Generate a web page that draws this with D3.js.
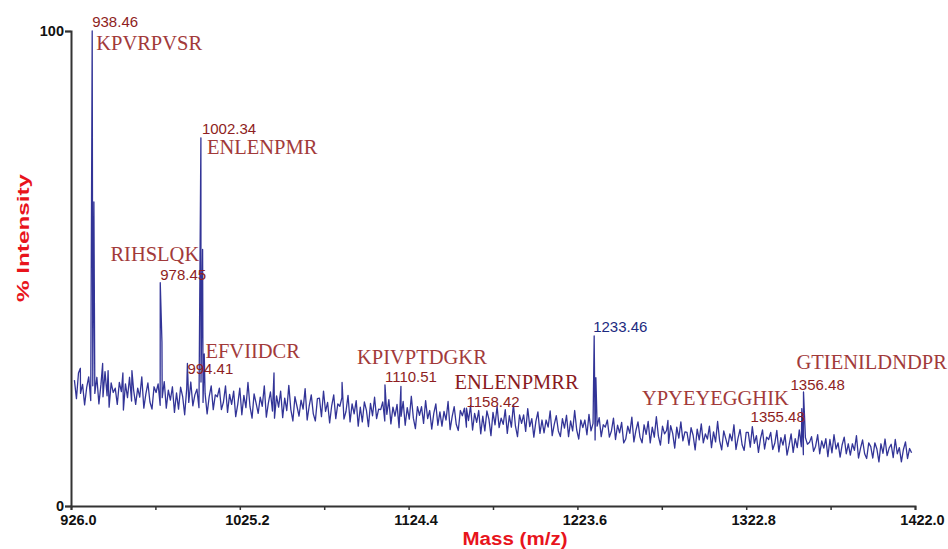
<!DOCTYPE html>
<html>
<head>
<meta charset="utf-8">
<script src="https://cdn.jsdelivr.net/npm/d3@7"></script>
<style>
  html, body { margin: 0; padding: 0; background: #fff; }
  svg { display: block; }
</style>
</head>
<body>
<svg id="chart" width="948" height="549"></svg>
<script>
// MALDI-TOF spectrum: % intensity vs mass (m/z)

// sampled baseline spectrum, starting at 928.0 m/z, one value every 1.2 m/z
const spectrumStart = 928.0;
const spectrumStep = 1.2;
const spectrumIntensity = [
  26.5, 22.6, 28.0, 23.7, 25.6, 21.3, 24.9, 27.2, 22.2, 25.3,
  23.7, 27.1, 21.5, 25.6, 23.0, 28.3, 23.2, 20.8, 25.9, 23.9,
  24.8, 21.4, 26.0, 24.1, 20.2, 25.7, 22.8, 27.1, 22.1, 24.4,
  21.4, 24.8, 22.9, 27.2, 20.6, 23.6, 25.9, 21.9, 20.4, 25.1,
  23.9, 25.7, 21.2, 22.8, 26.2, 20.6, 24.4, 22.3, 25.1, 19.7,
  23.8, 20.4, 25.0, 23.1, 19.2, 24.7, 21.8, 26.1, 21.1, 23.4,
  24.6, 20.7, 26.1, 21.8, 23.7, 19.4, 23.0, 25.3, 20.3, 23.4,
  23.0, 24.8, 20.3, 21.9, 25.3, 19.7, 23.5, 21.4, 24.2, 18.8,
  21.4, 24.8, 19.2, 23.3, 20.7, 26.0, 20.9, 18.5, 23.6, 21.6,
  19.5, 22.9, 21.0, 25.3, 18.7, 21.7, 24.0, 20.0, 18.5, 23.2,
  20.8, 24.2, 18.6, 22.7, 20.1, 25.4, 20.3, 17.9, 23.0, 21.0,
  18.9, 22.3, 20.4, 24.7, 18.1, 21.1, 23.4, 19.4, 17.9, 22.6,
  22.7, 18.8, 24.2, 19.9, 21.8, 17.5, 21.1, 23.4, 18.4, 21.5,
  21.0, 22.8, 18.3, 19.9, 23.3, 17.7, 21.5, 19.4, 22.2, 16.8,
  20.8, 17.7, 21.9, 20.2, 16.7, 21.6, 19.0, 22.9, 18.4, 20.4,
  20.3, 21.9, 17.9, 19.3, 22.4, 17.3, 20.8, 18.9, 21.4, 16.5,
  18.9, 22.0, 17.0, 20.7, 18.3, 23.1, 18.5, 16.3, 20.9, 19.1,
  20.9, 17.4, 22.2, 18.4, 20.1, 16.2, 19.5, 21.5, 17.0, 19.8,
  16.8, 19.9, 18.1, 22.0, 16.1, 18.8, 20.9, 17.2, 15.9, 20.1,
  19.0, 20.6, 16.6, 18.0, 21.1, 16.0, 19.5, 17.6, 20.1, 15.2,
  18.9, 15.8, 20.0, 18.3, 14.8, 19.7, 17.1, 21.0, 16.5, 18.5,
  17.2, 20.3, 15.3, 19.0, 16.6, 21.4, 16.8, 14.6, 19.2, 17.4,
  19.2, 15.7, 20.5, 16.7, 18.4, 14.5, 17.8, 19.8, 15.3, 18.1,
  15.4, 18.1, 16.6, 20.0, 14.8, 17.2, 19.0, 15.8, 14.6, 18.4,
  16.4, 19.1, 14.6, 17.9, 15.8, 20.1, 16.0, 14.1, 18.1, 16.5,
  18.1, 15.0, 19.3, 15.8, 17.4, 13.9, 16.8, 18.6, 14.6, 17.1,
  16.6, 18.1, 14.5, 15.8, 18.5, 14.0, 17.0, 15.4, 17.6, 13.3,
  14.1, 16.8, 15.3, 18.7, 13.5, 15.9, 17.7, 14.5, 13.3, 17.1,
  15.1, 17.8, 13.3, 16.6, 14.5, 18.8, 14.7, 12.8, 16.8, 15.2,
  15.9, 13.2, 16.9, 15.3, 12.2, 16.6, 14.3, 17.7, 13.7, 15.6,
  15.5, 12.8, 16.5, 14.9, 11.8, 16.2, 13.9, 17.3, 13.3, 15.2,
  14.1, 16.8, 12.3, 15.6, 13.5, 17.8, 13.7, 11.8, 15.8, 14.2,
  12.5, 15.2, 13.7, 17.1, 11.9, 14.3, 16.1, 12.9, 11.7, 15.5,
  15.5, 12.4, 16.7, 13.2, 14.8, 11.3, 14.2, 16.0, 12.0, 14.5,
  14.0, 15.5, 11.9, 13.2, 15.9, 11.4, 14.4, 12.8, 15.0, 10.7,
  12.8, 15.2, 11.3, 14.2, 12.3, 16.0, 12.5, 10.8, 14.4, 13.0,
  13.4, 14.6, 11.5, 12.6, 15.0, 11.0, 13.7, 12.2, 14.2, 10.4,
  14.0, 11.2, 15.0, 12.0, 13.3, 10.3, 12.9, 14.5, 11.0, 13.1,
  10.7, 13.1, 11.7, 14.8, 10.1, 12.2, 13.9, 11.0, 10.0, 13.3,
  12.5, 10.1, 13.3, 12.0, 9.3, 13.1, 11.1, 14.1, 10.6, 12.2,
  13.0, 10.2, 14.0, 11.0, 12.3, 9.3, 11.9, 13.5, 10.0, 12.1,
  11.2
];

// peak apexes (m/z and % intensity)
const peakMass = [
  931.5, 938.46, 939.46, 944.6, 947.8, 956.5, 961.8, 978.45, 979.45,
  994.41, 1002.34, 1003.34, 1004.3, 1045.3, 1085.3, 1110.51, 1119.9,
  1158.42, 1194.6, 1233.46, 1234.46, 1276.8, 1355.48, 1356.48
];
const peakIntensity = [
  29.0, 100.0, 64.0, 30.0, 28.5, 28.0, 28.5, 47.0, 34.5,
  30.0, 77.5, 54.0, 32.0, 28.0, 26.0, 25.5, 25.2,
  20.6, 20.0, 35.8, 27.0, 18.0, 20.5, 24.0
];

// annotated peaks
const labelMass = [938.46, 1002.34, 978.45, 994.41, 1110.51, 1158.42, 1233.46, 1356.48, 1355.48];
const labelText = ["938.46", "1002.34", "978.45", "994.41", "1110.51", "1158.42", "1233.46", "1356.48", "1355.48"];
const labelPeptide = ["KPVRPVSR", "ENLENPMR", "RIHSLQK", "EFVIIDCR", "KPIVPTDGKR", "ENLENPMRR", "", "GTIENILDNDPR", "YPYEYEGGHIK"];

// axis ticks
const xTicks = [926.0, 975.6, 1025.2, 1074.8, 1124.4, 1174.0, 1223.6, 1273.2, 1322.8, 1372.4, 1422.0];
const xTickLabels = ["926.0", "", "1025.2", "", "1124.4", "", "1223.6", "", "1322.8", "", "1422.0"];
const yTicks = [0, 100];

// ---- layout ----
const svg = d3.select("#chart");
const plotLeft = 71, plotRight = 915, plotTop = 31, plotBottom = 506;

const x = d3.scaleLinear().domain([926.0, 1422.0]).range([plotLeft, plotRight]);
const y = d3.scaleLinear().domain([0, 100]).range([plotBottom, plotTop]);

// merged trace: sampled spectrum plus peak apexes, ordered by mass
const trace = spectrumIntensity.map((v, i) => [spectrumStart + i * spectrumStep, v])
  .concat(peakMass.map((m, i) => [m, peakIntensity[i]]))
  .sort((a, b) => a[0] - b[0]);

const line = d3.line().x(d => x(d[0])).y(d => y(d[1]));

svg.append("path")
  .datum(trace)
  .attr("d", line)
  .attr("fill", "none")
  .attr("stroke", "#1c1e8c")
  .attr("stroke-width", 1.3)
  .attr("stroke-opacity", 0.9)
  .attr("stroke-linejoin", "round");

// ---- axes ----
const xAxis = d3.axisBottom(x)
  .tickValues(xTicks)
  .tickSize(4)
  .tickFormat((d, i) => xTickLabels[i]);

const gx = svg.append("g").attr("transform", `translate(0,${plotBottom})`).call(xAxis);
gx.select(".domain").attr("stroke", "#333").attr("stroke-width", 2);
gx.selectAll(".tick line").attr("stroke", "#333").attr("stroke-width", 1.5);
gx.selectAll(".tick text")
  .attr("y", 9)
  .attr("dx", 7)
  .attr("fill", "#111")
  .style("font-family", "Liberation Sans, Arial, sans-serif")
  .style("font-size", "14.5px")
  .style("font-weight", "bold");

const yAxis = d3.axisLeft(y).tickValues(yTicks).tickSize(6).tickFormat(d3.format("d"));
const gy = svg.append("g").attr("transform", `translate(${plotLeft},0)`).call(yAxis);
gy.select(".domain").attr("stroke", "#333").attr("stroke-width", 2);
gy.selectAll(".tick line").attr("stroke", "#333").attr("stroke-width", 1.5);
gy.selectAll(".tick text")
  .attr("x", -7)
  .attr("fill", "#111")
  .style("font-family", "Liberation Sans, Arial, sans-serif")
  .style("font-size", "14.5px")
  .style("font-weight", "bold");

// axis titles
svg.append("text")
  .attr("x", 515).attr("y", 545)
  .attr("text-anchor", "middle")
  .attr("fill", "#e8141c")
  .attr("textLength", 105)
  .attr("lengthAdjust", "spacingAndGlyphs")
  .style("font-family", "Liberation Sans, Arial, sans-serif")
  .style("font-size", "18px")
  .style("font-weight", "bold")
  .text("Mass (m/z)");

svg.append("text")
  .attr("transform", "translate(29,238) rotate(-90)")
  .attr("text-anchor", "middle")
  .attr("fill", "#e8141c")
  .attr("textLength", 128)
  .attr("lengthAdjust", "spacingAndGlyphs")
  .style("font-family", "Liberation Sans, Arial, sans-serif")
  .style("font-size", "17px")
  .style("font-weight", "bold")
  .text("% Intensity");

// ---- peak annotations ----
// offsets from each peak apex (mass label, then peptide label)
const labelLayout = {
  "938.46":  { m: [0, -4, "start"],  p: [4, 19, "start"] },
  "1002.34": { m: [1, -4, "start"],  p: [6, 16, "start"] },
  "978.45":  { m: [0, -3, "start"],  p: [39, -22, "end"] },
  "994.41":  { m: [0, 10, "start"],  p: [18, -6, "start"] },
  "1110.51": { m: [0, -3, "start"],  p: [-28, -21, "start"] },
  "1158.42": { m: [0, -1, "start"],  p: [-12, -19, "start"] },
  "1233.46": { m: [-1, -4, "start"], p: [0, 0, "start"] },
  "1356.48": { m: [-13, -2, "start"], p: [-7, -23, "start"] },
  "1355.48": { m: [3, 13, "end"],    p: [-13, -4, "end"] }
};

const apexOf = m => {
  const i = peakMass.indexOf(m);
  return [x(m), y(peakIntensity[i])];
};

labelMass.forEach((m, i) => {
  const [px, py] = apexOf(m);
  const lay = labelLayout[labelText[i]];
  svg.append("text")
    .attr("x", px + lay.m[0]).attr("y", py + lay.m[1])
    .attr("text-anchor", lay.m[2])
    .attr("fill", labelText[i] === "1233.46" ? "#1c2a80" : "#8e1e22")
    .style("font-family", "Liberation Sans, Arial, sans-serif")
    .style("font-size", "15px")
    .text(labelText[i]);
  if (labelPeptide[i]) {
    svg.append("text")
      .attr("x", px + lay.p[0]).attr("y", py + lay.p[1])
      .attr("text-anchor", lay.p[2])
      .attr("fill", labelPeptide[i] === "ENLENPMRR" ? "#8a1a1e" : "#a23a3a")
      .style("font-family", "Liberation Serif, Times New Roman, serif")
      .style("font-size", "20.5px")
      .text(labelPeptide[i]);
  }
});
</script>
</body>
</html>
